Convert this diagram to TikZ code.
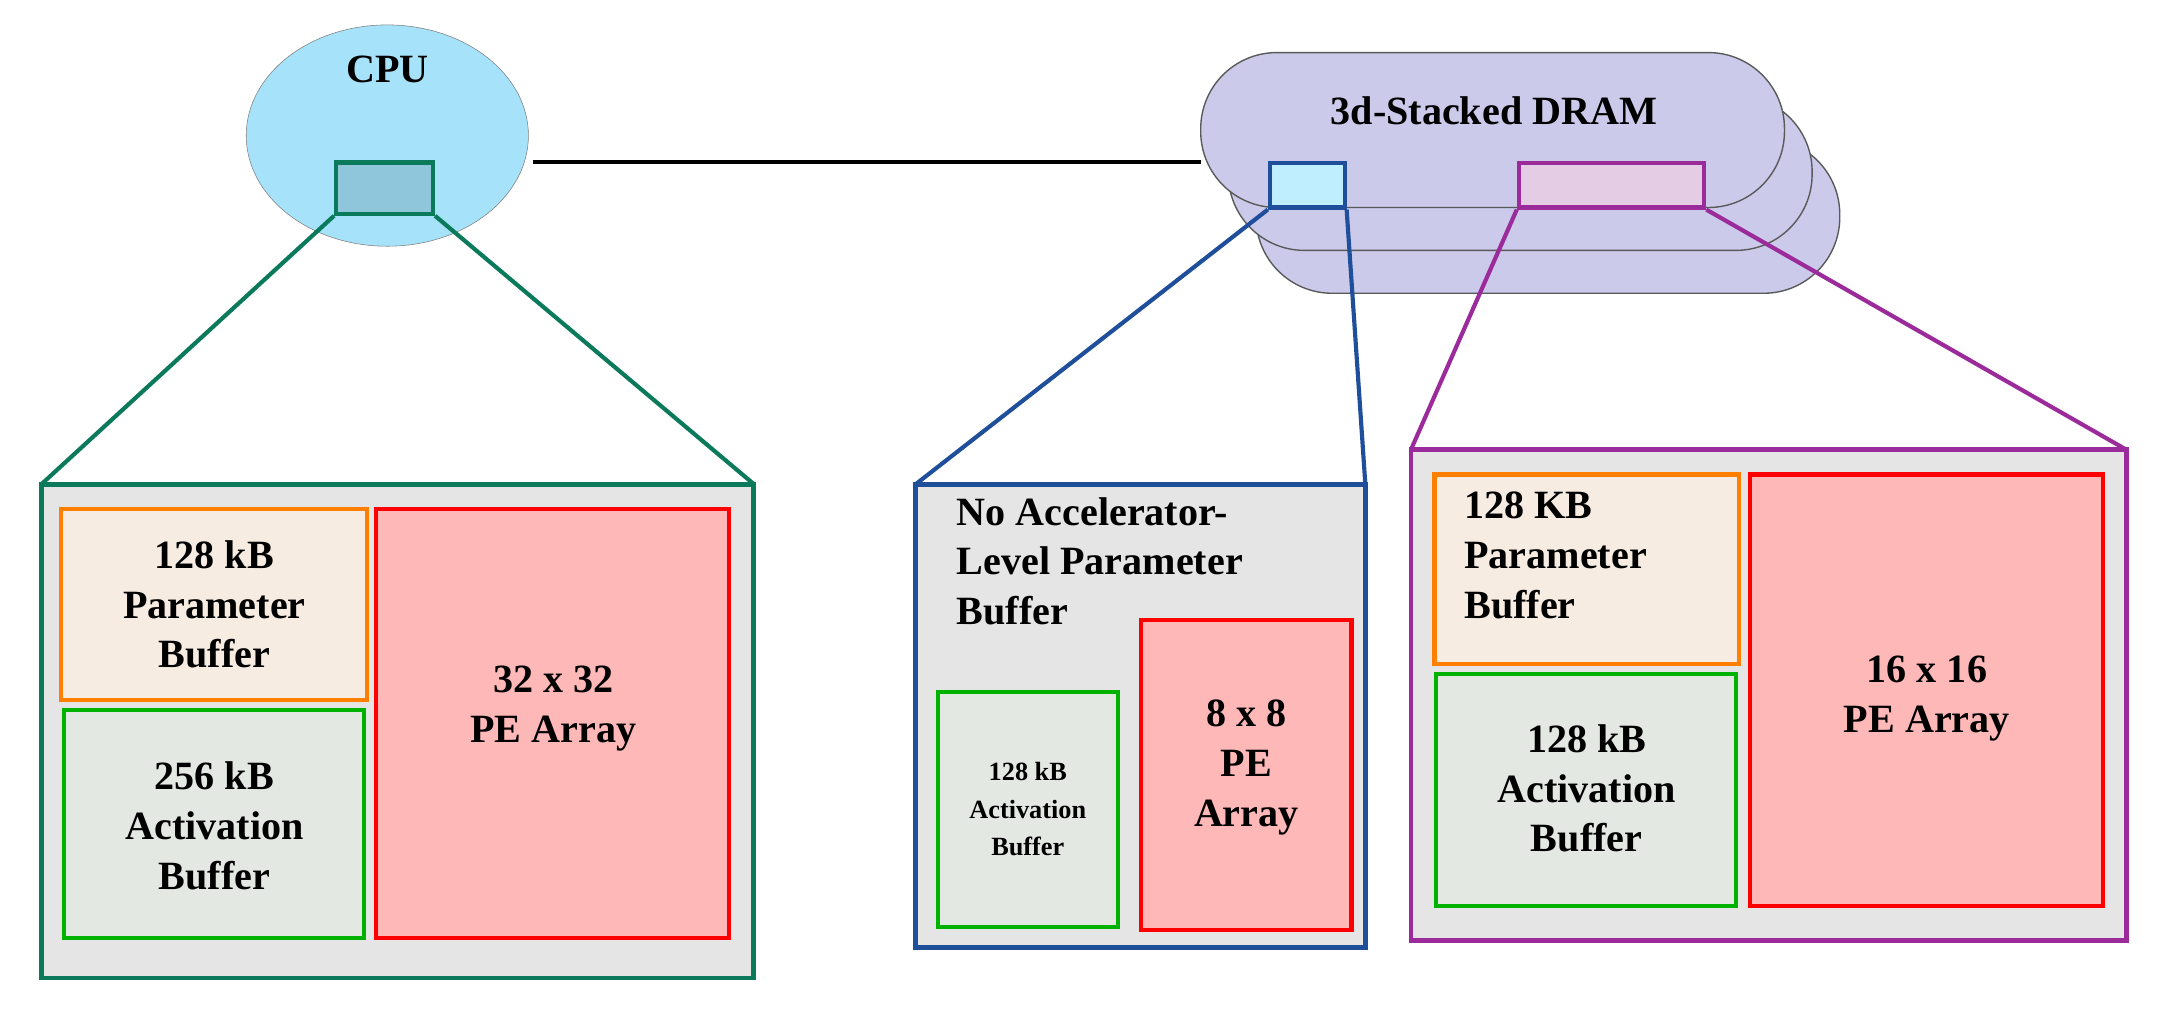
\documentclass[tikz,border=0pt]{standalone}
\usepackage{fontspec}
\setmainfont{Liberation Serif}
\usetikzlibrary{shapes.geometric}
\begin{document}
\begin{tikzpicture}[x=1pt,y=-1pt,
  big/.style={font=\fontsize{29}{36}\selectfont\bfseries,align=center},
  box/.style={line width=3pt},
  pnl/.style={line width=3.5pt,fill=gray!20},
  orangeb/.style={box,draw=orange,fill=orange!12!brown!15},
  greenb/.style={box,draw=green!70!black,fill=green!10!gray!20},
  redb/.style={box,draw=red,fill=red!20!pink!70},
  dram/.style={draw=gray!70!black,line width=1pt,fill=cyan!20!blue!20,rounded corners=55pt}]
\useasboundingbox (0,0) rectangle (1568,740);
\definecolor{cg}{HTML}{0A7A5A}\definecolor{cb}{HTML}{1F4E9A}\definecolor{cp}{HTML}{9B2A9B}
% CPU
\node[draw=gray,ellipse,minimum width=204pt,minimum height=160pt,fill=cyan!35,inner sep=0] (cpu) at (280,98) {};
\node[big] (cput) at (280,50) {CPU};
\node[draw=cg,line width=3pt,fill=cyan!45!teal!50,minimum width=70pt,minimum height=37pt,inner sep=0] (cs) at (278,136) {};
% DRAM
\draw[dram] (908,100) rectangle (1330,212);
\draw[dram] (888,69) rectangle (1310,181);
\draw[dram] (868,38) rectangle (1290,150);
\node[big] (dt) at (1080,80) {3d-Stacked DRAM};
\node[draw=cb,line width=3pt,fill=blue!25!cyan!25,minimum width=54pt,minimum height=32pt,inner sep=0] (bs) at (945,134) {};
\node[draw=cp,line width=3pt,fill=violet!20,minimum width=134pt,minimum height=32pt,inner sep=0] (ps) at (1165,134) {};
\coordinate (lA) at (385,117); \coordinate (lB) at (868,117);
\draw[line width=2.5pt] (lA) -- (lB);
% panels
\draw[pnl,draw=cg] (30,350) rectangle (545,707);
\draw[pnl,draw=cb] (662,350) rectangle (987,685);
\draw[pnl,draw=cp] (1020,325) rectangle (1537,680);
\draw[cg,line width=3pt] (cs.south west) -- (30,350) (cs.south east) -- (545,350);
\draw[cb,line width=3pt] (bs.south west) -- (662,350) (bs.south east) -- (987,350);
\draw[cp,line width=3pt] (ps.south west) -- (1020,325) (ps.south east) -- (1537,325);
% green panel
\draw[orangeb] (44,368) rectangle (265,506);
\node[big] (t1) at (155,437) {128 kB\\Parameter\\Buffer};
\draw[greenb] (46,513) rectangle (263,678);
\node[big] (t2) at (155,597) {256 kB\\Activation\\Buffer};
\draw[redb] (272,368) rectangle (527,678);
\node[big] (t3) at (400,512) {32 x 32\\PE Array};
% blue panel
\node[big,align=left,anchor=north west] (t4) at (688,356) {No Accelerator-\\Level Parameter\\Buffer};
\draw[greenb] (678,500) rectangle (808,670);
\node[font=\fontsize{19}{27}\selectfont\bfseries,align=center] (t5) at (743,585) {128 kB\\Activation\\Buffer};
\draw[redb] (825,448) rectangle (977,672);
\node[big] (t6) at (901,555) {8 x 8\\PE\\Array};
% purple panel
\draw[orangeb] (1037,343) rectangle (1257,480);
\node[big,align=left,anchor=north west] (t7) at (1055,352) {128 KB\\Parameter\\Buffer};
\draw[greenb] (1038,487) rectangle (1255,655);
\node[big] (t8) at (1147,570) {128 kB\\Activation\\Buffer};
\draw[redb] (1265,343) rectangle (1520,655);
\node[big] (t9) at (1393,505) {16 x 16\\PE Array};
\end{tikzpicture}
\end{document}
